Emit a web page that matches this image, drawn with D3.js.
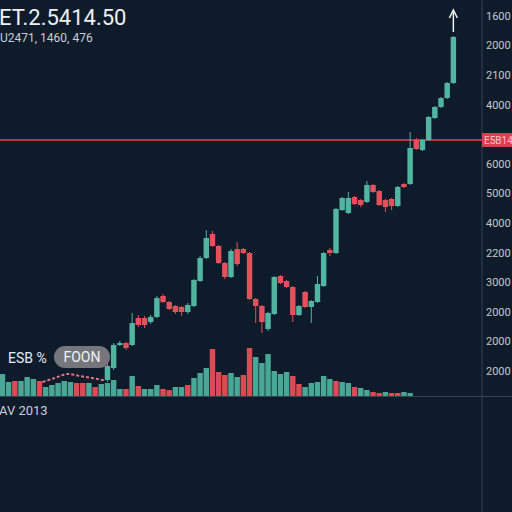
<!DOCTYPE html>
<html>
<head>
<meta charset="utf-8">
<script src="https://cdn.jsdelivr.net/npm/d3@7"></script>
<style>
  html, body { margin: 0; padding: 0; background: #0e1b2b; }
  svg { display: block; }
</style>
</head>
<body>
<svg id="chart"></svg>
<script>
// candle data (index in slot scale, ohlc)
var candleStart = 17;
var opens  = [200,320,550,570,550,820,820,780,830,1040,980,940,930,880,940,1190,1420,1660,1540,1370,1230,1510,1510,1470,1010,940,710,860,1240,1190,1130,850,1080,930,980,1140,1500,1470,1900,1870,2030,2000,1980,2150,2090,2000,2010,1940,2160,2160,2600,2500,2600,2820,2930,3020,3170];
var closes = [340,550,570,520,770,750,750,830,1020,980,910,880,880,950,1200,1420,1620,1540,1370,1230,1490,1360,1470,1010,940,780,870,1230,1170,1130,850,940,930,990,1160,1470,1470,1910,2020,2020,1960,1950,2150,2080,1950,1930,1940,2130,2130,2520,2510,2600,2830,2930,3020,3170,3630];
var highs  = [380,570,590,580,870,850,840,850,1040,1060,990,950,940,970,1210,1440,1700,1690,1550,1380,1510,1580,1520,1480,1020,950,880,1240,1250,1200,1140,950,1090,1000,1240,1480,1520,1920,2030,2080,2040,2010,2190,2160,2100,2010,2020,2140,2170,2680,2620,2610,2840,2940,3030,3180,3640];
var lows   = [180,300,540,500,540,730,720,760,820,970,900,860,840,860,930,1180,1410,1530,1360,1210,1220,1340,1460,1000,770,670,690,850,1160,1120,780,840,920,770,970,1130,1440,1460,1890,1860,1950,1930,1970,2070,1940,1880,1900,1930,2120,2150,2500,2490,2590,2810,2920,3010,3160];

// volume
var volumes = [2200,1400,1500,1500,1900,1700,1500,900,1100,1300,1500,1400,1300,1300,1300,900,1200,1300,1600,700,700,2000,1000,700,700,1100,700,600,900,900,1100,1800,2300,2800,4700,2400,2100,2300,1900,2100,4800,3900,3300,4200,2500,2200,2400,2000,1200,900,1300,1400,2000,1700,1500,1400,1300,900,800,600,400,300,400,300,300,400,300];
var volUp   = [1,1,0,1,1,1,0,1,1,1,1,1,0,0,1,0,1,1,1,1,0,1,0,1,1,1,0,0,1,1,0,1,1,1,0,0,0,1,1,0,0,1,1,1,1,1,1,0,0,1,1,1,1,1,0,1,1,0,1,1,0,0,1,0,0,1,1];

// moving average (dotted, volume pane)
var maIdx = [6.5, 8.5, 10.5, 12.5, 14.5, 16.5, 17];
var maVal = [1400, 1800, 2200, 2000, 1800, 1600, 2000];

var axisLabels = ["1600","2000","2100","4000",null,"6000","5000","4000","2200","3000","2000","2000","2000"];
var lastPrice = 2600;
var lastLabel = "E5B14";

var W = 512, H = 512;
var green = "#52b5a2", red = "#e4515c";

var svg = d3.select("#chart").attr("width", W).attr("height", H);

svg.append("rect").attr("width", W).attr("height", H).attr("fill", "#0e1b2b");

var x = d3.scaleBand().domain(d3.range(75)).range([-1, 463]).padding(0.12);
var y = d3.scaleLinear().domain([0, 4000]).range([400, 0]);
var yv = d3.scaleLinear().domain([0, 6000]).range([396, 336]);
var yLab = d3.scalePoint().domain(d3.range(axisLabels.length)).range([16, 371]);

function cx(i) { return x(i) + x.bandwidth() / 2; }

// right axis line + bottom line
svg.append("line").attr("x1", 482).attr("x2", 482).attr("y1", 0).attr("y2", H)
    .attr("stroke", "#354356").attr("stroke-width", 1);
svg.append("line").attr("x1", 0).attr("x2", W).attr("y1", yv(0) + 0.5).attr("y2", yv(0) + 0.5)
    .attr("stroke", "#354356").attr("stroke-width", 1);

// volume bars
svg.selectAll("rect.vol")
    .data(volumes)
    .enter()
    .append("rect")
    .attr("class", "vol")
    .attr("x", function(d, i) { return x(i); })
    .attr("y", function(d) { return yv(d); })
    .attr("width", x.bandwidth())
    .attr("height", function(d) { return yv(0) - yv(d); })
    .attr("fill", function(d, i) { return volUp[i] ? "#48a795" : "#dc4a56"; });

// dotted MA
var maLine = d3.line()
    .x(function(d) { return x.step() * d + x(0) + x.bandwidth() / 2; })
    .y(function(d, i) { return yv(maVal[i]); })
    .curve(d3.curveMonotoneX);
svg.append("path")
    .attr("d", maLine(maIdx))
    .attr("fill", "none")
    .attr("stroke", "#e07584")
    .attr("stroke-width", 2)
    .attr("stroke-dasharray", "3,2");

// red price line
svg.append("line").attr("x1", 0).attr("x2", 482)
    .attr("y1", y(lastPrice)).attr("y2", y(lastPrice))
    .attr("stroke", "#b8364c").attr("stroke-width", 2);

// candles
var candles = svg.selectAll("g.candle")
    .data(opens)
    .enter()
    .append("g")
    .attr("class", "candle");

candles.append("line")
    .attr("x1", function(d, i) { return cx(i + candleStart); })
    .attr("x2", function(d, i) { return cx(i + candleStart); })
    .attr("y1", function(d, i) { return y(highs[i]); })
    .attr("y2", function(d, i) { return y(lows[i]); })
    .attr("stroke", function(d, i) { return closes[i] >= d ? green : red; })
    .attr("stroke-width", 1);

candles.append("rect")
    .attr("x", function(d, i) { return x(i + candleStart); })
    .attr("y", function(d, i) { return y(Math.max(d, closes[i])); })
    .attr("width", x.bandwidth())
    .attr("height", function(d, i) { return Math.max(1.5, Math.abs(y(d) - y(closes[i]))); })
    .attr("fill", function(d, i) { return closes[i] >= d ? green : red; });

// arrow over last candle
var ai = opens.length - 1 + candleStart;
var ax = cx(ai), ayTop = y(highs[opens.length - 1]) - 26;
svg.append("line").attr("x1", ax).attr("x2", ax).attr("y1", ayTop + 2).attr("y2", ayTop + 22)
    .attr("stroke", "#f2f2f2").attr("stroke-width", 1.5);
svg.append("path")
    .attr("d", "M" + (ax - 4) + "," + (ayTop + 8) + "L" + ax + "," + ayTop + "L" + (ax + 4) + "," + (ayTop + 8))
    .attr("fill", "none").attr("stroke", "#f2f2f2").attr("stroke-width", 1.5);

// right axis labels
var labelData = axisLabels
    .map(function(d, i) { return { text: d, pos: i }; })
    .filter(function(d) { return d.text !== null; });

svg.selectAll("text.ylab")
    .data(labelData)
    .enter()
    .append("text")
    .attr("class", "ylab")
    .attr("x", 486)
    .attr("y", function(d) { return yLab(d.pos); })
    .attr("dy", "0.35em")
    .attr("font-family", "Roboto, sans-serif")
    .attr("font-size", 11)
    .attr("fill", "#c3c8cf")
    .text(function(d) { return d.text; });

svg.append("rect").attr("x", 482).attr("y", y(lastPrice) - 7).attr("width", 30).attr("height", 14)
    .attr("fill", "#d8404e");
svg.append("text").attr("x", 484).attr("y", y(lastPrice)).attr("dy", "0.35em")
    .attr("font-family", "Roboto, sans-serif").attr("font-size", 10)
    .attr("fill", "#ffc2c8").text(lastLabel);

// titles
svg.append("text").attr("x", -1).attr("y", 25)
    .attr("font-family", "Roboto, sans-serif").attr("font-size", 22)
    .attr("fill", "#eef1f4").text("ET.2.5414.50");
svg.append("text").attr("x", 0).attr("y", 42)
    .attr("font-family", "Roboto, sans-serif").attr("font-size", 12)
    .attr("fill", "#c9ced6").text("U2471, 1460, 476");

// legend tags
svg.append("text").attr("x", 8).attr("y", 363)
    .attr("font-family", "Roboto, sans-serif").attr("font-size", 14)
    .attr("fill", "#e8ebef").text("ESB %");
svg.append("rect").attr("x", 54).attr("y", 346).attr("width", 56).attr("height", 22).attr("rx", 11)
    .attr("fill", "#76777d");
svg.append("text").attr("x", 82).attr("y", 362).attr("text-anchor", "middle")
    .attr("font-family", "Roboto, sans-serif").attr("font-size", 14)
    .attr("fill", "#f2f2f2").text("FOON");

svg.append("text").attr("x", -1).attr("y", 415)
    .attr("font-family", "Roboto, sans-serif").attr("font-size", 13)
    .attr("fill", "#c9ced6").text("AV 2013");
</script>
</body>
</html>
